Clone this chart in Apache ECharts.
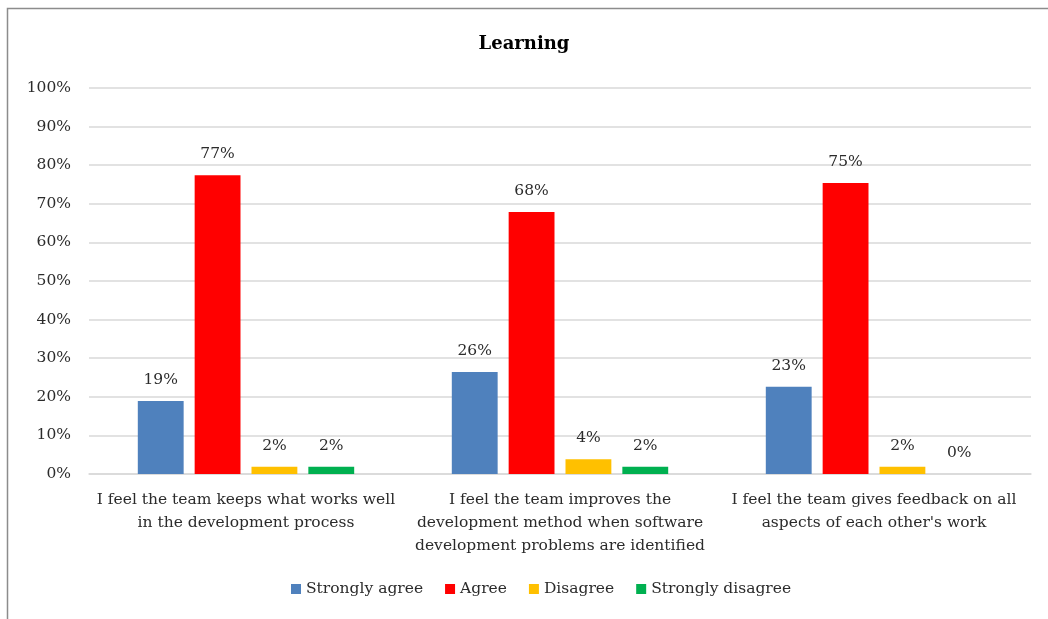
<!DOCTYPE html>
<html>
<head>
<meta charset="utf-8">
<script src="https://cdn.jsdelivr.net/npm/echarts@6/dist/echarts.min.js"></script>
<style>
html,body{margin:0;padding:0;background:#fff;}
#c{width:1048px;height:619px;}
</style>
</head>
<body>
<div id="c"></div>
<script>
var categories = [
  "I feel the team keeps what works well\nin the development process",
  "I feel the team improves the\ndevelopment method when software\ndevelopment problems are identified",
  "I feel the team gives feedback on all\naspects of each other's work"
];
var seriesNames = ["Strongly agree", "Agree", "Disagree", "Strongly disagree"];
var stronglyAgree = [18.9, 26.4, 22.6];
var agree = [77.4, 67.9, 75.4];
var disagree = [1.9, 3.8, 1.9];
var stronglyDisagree = [1.9, 1.9, 0];
var colors = ["#4f81bd", "#ff0000", "#ffc000", "#00b050"];
var yTicks = [0, 10, 20, 30, 40, 50, 60, 70, 80, 90, 100];

var FONT = "DejaVu Serif";
var TXT = '#2b2b2b';
var chart = echarts.init(document.getElementById('c'), null, {renderer: 'canvas'});
var data = [stronglyAgree, agree, disagree, stronglyDisagree];
var series = seriesNames.map(function (n, i) {
  return {
    name: n,
    type: 'bar',
    data: data[i],
    barWidth: '14.6%',
    barGap: '24%',
    itemStyle: {color: colors[i]},
    label: {
      show: true,
      position: 'top',
      distance: 13,
      color: TXT,
      fontFamily: FONT,
      fontSize: 15.5,
      formatter: function (p) { return Math.round(p.value) + '%'; }
    }
  };
});
chart.setOption({
  animation: false,
  backgroundColor: '#fff',
  textStyle: {fontFamily: FONT, color: TXT},
  title: {
    text: 'Learning',
    left: 'center',
    top: 30,
    textStyle: {fontFamily: FONT, fontWeight: 'bold', fontSize: 18, color: '#000'}
  },
  legend: {
    data: seriesNames,
    bottom: 17,
    left: 286,
    itemWidth: 10,
    itemHeight: 10,
    itemGap: 22,
    icon: 'rect',
    textStyle: {fontFamily: FONT, fontSize: 15.5, color: TXT}
  },
  grid: {left: 89, right: 17, top: 88, bottom: 145, containLabel: false},
  xAxis: {
    type: 'category',
    data: categories,
    axisTick: {show: false},
    axisLine: {lineStyle: {color: '#d9d9d9', width: 1.5}},
    axisLabel: {fontFamily: FONT, fontSize: 15.5, color: TXT, margin: 14, lineHeight: 23, interval: 0}
  },
  yAxis: {
    type: 'value',
    min: 0,
    max: 100,
    interval: 10,
    axisLine: {show: false},
    axisTick: {show: false},
    splitLine: {lineStyle: {color: '#d9d9d9', width: 1.5}},
    axisLabel: {fontFamily: FONT, fontSize: 15.5, color: TXT, margin: 18,
      formatter: function (v) { return yTicks.indexOf(v) >= 0 ? v + '%' : ''; }}
  },
  graphic: [{
    type: 'rect',
    shape: {x: 7.5, y: 8.5, width: 1200, height: 800},
    style: {fill: 'none', stroke: '#8c8c8c', lineWidth: 1.5},
    silent: true
  }],
  series: series
});
</script>
</body>
</html>
